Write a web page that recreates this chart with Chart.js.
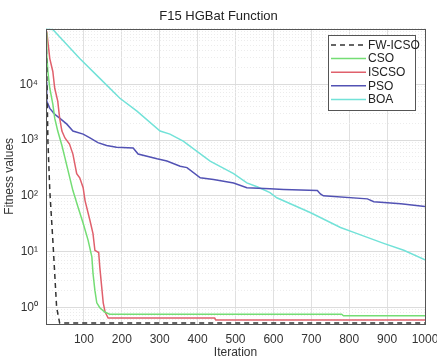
<!DOCTYPE html>
<html>
<head>
<meta charset="utf-8">
<script src="https://cdn.jsdelivr.net/npm/chart.js@4/dist/chart.umd.min.js"></script>
<style>
  html, body { margin: 0; padding: 0; background: #fff; }
  #wrap { width: 437px; height: 362px; }
</style>
</head>
<body>
<div id="wrap"><canvas id="myChart" width="437" height="362"></canvas></div>
<script>
// convergence curves (iteration, best fitness)
const fwIter = [0, 2, 5, 10, 18, 28, 36, 1000];
const fwVals = [90000, 20000, 960, 124, 16, 1.0, 0.52, 0.52];

const csoIter = [0, 2, 5, 10, 18, 23, 31, 42, 50, 71, 85, 98, 111, 121, 124, 129, 134, 142, 155, 168, 780, 785, 1000];
const csoVals = [85000, 34000, 17000, 8500, 4400, 2470, 1450, 800, 480, 124, 61, 32, 16, 8, 4.1, 2.0, 1.2, 0.98, 0.82, 0.75, 0.75, 0.70, 0.70];

const iscsoIter = [0, 2, 10, 18, 23, 31, 36, 42, 50, 62, 71, 81, 89, 98, 103, 116, 124, 129, 139, 142, 147, 151, 156, 164, 445, 448, 1000];
const iscsoVals = [90000, 88000, 29000, 17000, 8500, 5000, 2470, 1450, 1090, 850, 560, 250, 210, 140, 82, 36, 21, 10.5, 9.6, 5.2, 2.3, 1.2, 0.82, 0.64, 0.64, 0.59, 0.59];

const psoIter = [0, 2, 10, 23, 36, 55, 71, 98, 116, 137, 160, 186, 230, 243, 293, 319, 354, 372, 407, 442, 495, 530, 591, 627, 716, 724, 732, 848, 865, 936, 1000];
const psoVals = [11000, 5000, 3700, 2900, 2470, 1930, 1450, 1280, 1090, 900, 800, 740, 720, 560, 460, 420, 340, 320, 210, 195, 170, 140, 133, 130, 124, 108, 100, 88, 78, 72, 64];

const boaIter = [0, 18, 89, 142, 195, 240, 301, 327, 362, 433, 495, 530, 557, 591, 609, 697, 777, 812, 891, 944, 1000];
const boaVals = [98000, 96000, 29000, 12800, 5630, 3300, 1450, 1280, 960, 420, 250, 170, 145, 114, 92, 50, 27, 22, 14, 10.5, 7.1];

const seriesNames = ['FW-ICSO', 'CSO', 'ISCSO', 'PSO', 'BOA'];
const seriesColors = ['#333333', '#74dd74', '#e0606c', '#5252b4', '#72e2d8'];

const xTicks = [0, 100, 200, 300, 400, 500, 600, 700, 800, 900, 1000];
const yMajor = [1, 10, 100, 1000, 10000];
const yLabels = ['10\u2070', '10\u00b9', '10\u00b2', '10\u00b3', '10\u2074'];

function pts(xs, ys) {
  return xs.map((x, i) => ({ x: x, y: ys[i] }));
}

// every decade gets minor lines at 2..9
function logGrid(min, max) {
  let out = [];
  for (let e = -1; e <= 5; e++) {
    for (let m = 1; m <= 9; m++) {
      let v = m * Math.pow(10, e);
      if (v >= min - 1e-9 && v <= max + 1e-9) out.push(v);
    }
  }
  return out;
}

function isMajor(v) {
  return yMajor.some(m => Math.abs(m - v) / m < 1e-6);
}

const allIters = [fwIter, csoIter, iscsoIter, psoIter, boaIter];
const allVals = [fwVals, csoVals, iscsoVals, psoVals, boaVals];

const frame = {
  id: 'frame',
  afterDraw(chart) {
    const c = chart.ctx, a = chart.chartArea;
    c.save();
    c.strokeStyle = '#555';
    c.lineWidth = 1;
    c.strokeRect(Math.round(a.left) + 0.5, Math.round(a.top) + 0.5, Math.round(a.right - a.left), Math.round(a.bottom - a.top));

    // legend box in top right corner
    const bx = 328.5, by = 35.5, bw = 87, bh = 75;
    c.fillStyle = '#fff';
    c.fillRect(bx, by, bw, bh);
    c.strokeStyle = '#555';
    c.strokeRect(bx, by, bw, bh);
    c.font = '12px "Liberation Sans", Arial, sans-serif';
    c.textBaseline = 'middle';
    chart.data.datasets.forEach((ds, i) => {
      const yy = 45 + i * 13.6;
      c.strokeStyle = ds.borderColor;
      c.lineWidth = 1.5;
      c.setLineDash(ds.borderDash || []);
      c.beginPath();
      c.moveTo(331, yy);
      c.lineTo(366, yy);
      c.stroke();
      c.setLineDash([]);
      c.fillStyle = '#222';
      c.fillText(ds.label, 368, yy + 0.5);
    });
    c.restore();
  }
};

let myChart = document.getElementById('myChart').getContext('2d');

let convChart = new Chart(myChart, {
  type: 'line',
  data: {
    datasets: seriesNames.map((name, i) => ({
      label: name,
      data: pts(allIters[i], allVals[i]),
      borderColor: seriesColors[i],
      borderWidth: 1.5,
      borderDash: i === 0 ? [5, 4] : [],
      pointRadius: 0,
      fill: false,
      tension: 0
    }))
  },
  options: {
    responsive: false,
    animation: false,
    layout: { padding: { left: 0, right: 0, top: 0, bottom: 0 } },
    plugins: {
      legend: { display: false },
      tooltip: { enabled: false },
      title: {
        display: true,
        text: 'F15 HGBat Function',
        color: '#222',
        font: { family: '"Liberation Sans", Arial, sans-serif', size: 13, weight: 'normal' },
        padding: { top: 9, bottom: 4 }
      }
    },
    scales: {
      x: {
        type: 'linear',
        min: 0,
        max: 1000,
        afterBuildTicks: s => { s.ticks = xTicks.map(v => ({ value: v })); },
        afterFit: s => { s.height = 38; s.paddingRight = 12; s.paddingLeft = 0; },
        ticks: {
          padding: 8,
          maxRotation: 0,
          color: '#333',
          font: { family: '"Liberation Sans", Arial, sans-serif', size: 12 },
          callback: v => (v === 0 ? '' : String(v))
        },
        grid: { color: '#e0e0e0', drawTicks: false },
        border: { display: false },
        title: {
          display: true,
          text: 'Iteration',
          color: '#333',
          font: { family: '"Liberation Sans", Arial, sans-serif', size: 12 },
          padding: { top: 0, bottom: 2 }
        }
      },
      y: {
        type: 'logarithmic',
        min: 0.5,
        max: 100000,
        afterBuildTicks: s => { s.ticks = logGrid(0.5, 100000).map(v => ({ value: v })); },
        afterFit: s => { s.width = 46; s.paddingTop = 0; s.paddingBottom = 0; },
        ticks: {
          padding: 8,
          autoSkip: false,
          color: '#333',
          font: { family: '"Liberation Sans", Arial, sans-serif', size: 12 },
          callback: v => {
            const k = yMajor.findIndex(m => Math.abs(m - v) / m < 1e-6);
            return k >= 0 ? yLabels[k] : '';
          }
        },
        grid: {
          drawTicks: false,
          color: ctx => (ctx.tick && isMajor(ctx.tick.value) ? '#dcdcdc' : '#ececec')
        },
        border: {
          display: false,
          dash: ctx => (ctx.tick && !isMajor(ctx.tick.value) ? [1, 2] : [])
        },
        title: {
          display: true,
          text: 'Fitness values',
          color: '#333',
          font: { family: '"Liberation Sans", Arial, sans-serif', size: 12 },
          padding: { top: 2, bottom: 0 }
        }
      }
    }
  },
  plugins: [frame]
});
</script>
</body>
</html>
